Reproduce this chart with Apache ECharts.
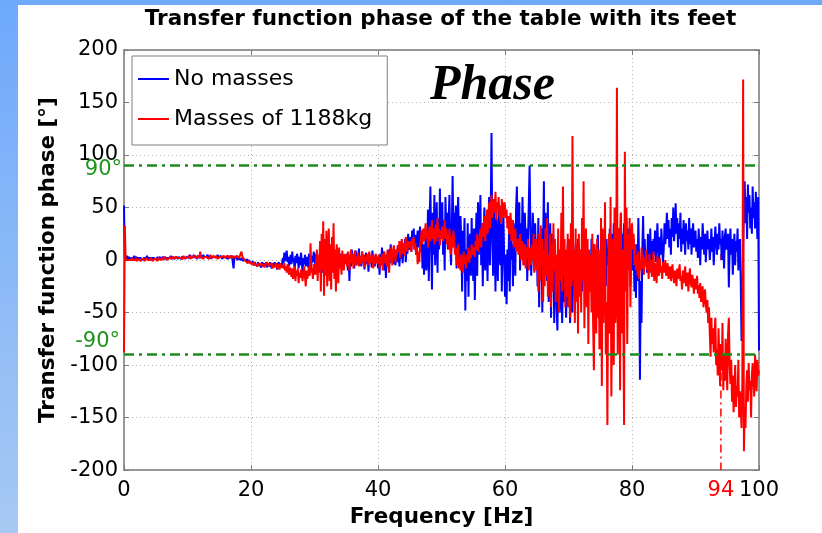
<!DOCTYPE html>
<html><head><meta charset="utf-8">
<script src="https://cdn.jsdelivr.net/npm/echarts@6/dist/echarts.min.js"></script>
<style>
html,body{margin:0;padding:0;overflow:hidden;}
#bg{position:absolute;left:0;top:0;width:822px;height:533px;background:linear-gradient(to bottom,#6ea9fc,#a7c9f3);}
#white{position:absolute;left:18px;top:5px;width:804px;height:528px;background:#fff;}
#chart{position:absolute;left:0;top:0;width:822px;height:533px;}
</style></head><body>
<div id="bg"></div><div id="white"></div><div id="chart"></div>
<script>
// ---- data (phase in degrees, sampled every 0.125 Hz from 0 to 100 Hz; one row = 5 Hz) ----
const freqStep = 0.125;
const seriesNames = ['No masses', 'Masses of 1188kg'];
const noMasses = [
52,3,1,2,4,1,3,2, 0,2,3,1,2,4,1,2, 3,0,2,1,3,2,1,3, 0,2,3,1,2,4,2,1, 3,2,0,2,1,3,2,1,
2,0,3,1,2,3,1,2, 0,3,2,1,3,2,0,2, 1,3,2,4,1,2,3,1, 2,0,3,2,1,3,4,2, 1,3,2,4,3,1,2,3,
3,4,2,5,3,2,4,3, 5,2,4,3,1,4,3,5, 2,3,4,2,5,3,4,2, 3,5,4,2,3,4,1,3, 2,4,3,2,4,3,5,2,
3,2,4,3,1,3,2,4, 3,2,3,1,4,2,3,2, 4,3,-8,2,1,3,2,0, 2,1,3,0,2,1,-1,1, 0,2,-1,1,-2,0,-1,-2,
-2,-4,-1,-3,-5,-2,-4,-3, -6,-2,-4,-5,-3,-7,-2,-4, -6,-3,-5,-2,-7,-4,-3,-6, -2,-5,-8,-3,-4,-6,-2,-5, -3,-9,-4,-2,-6,-3,-7,-4,
2,-3,7,-1,4,9,-2,3, -6,0,5,-4,8,-2,2,-10, 4,-3,6,1,-8,3,-5,7, -2,-12,2,-4,5,-6,0,3, -7,6,-3,1,-5,4,-2,8,
3,-5,6,-2,-9,4,-1,8, -6,2,-12,5,-3,7,-8,1, -4,9,-2,6,-7,3,-10,5, -3,8,-6,2,-4,7,-9,3, -2,6,-5,1,-8,4,-3,5,
-4,6,-10,2,-20,4,-6,10, -3,5,-8,0,9,-5,3,-2, 11,-4,2,-6,8,-3,5,-9, 1,7,-4,3,-11,6,-2,4, -7,9,-3,1,-6,5,-2,3,
-8,3,-14,6,-5,12,-2,8, -10,4,-17,2,6,-6,10,-3, 15,-1,7,-4,12,2,-5,9, -2,14,4,-6,10,1,18,-3, 8,5,20,-2,14,6,25,10,
12,22,8,28,15,30,10,24, 5,18,28,12,20,32,8,25, -8,15,-14,5,20,-10,10,48, -20,35,70,15,-28,45,5,62, -5,30,55,-12,40,10,68,20,
20,55,5,38,-10,60,25,45, 10,38,62,15,-5,30,80,25, 45,10,52,-8,35,60,20,-5, 42,15,-30,28,5,40,-48,10, -20,35,-35,15,25,-15,40,5,
-20,30,-38,10,45,-15,55,5, 25,62,-5,35,-25,20,50,-10, 40,15,-20,30,60,-5,45,121, 20,-15,55,25,-30,40,10,-20, 50,15,-5,35,-30,20,45,0,
-35,5,-42,10,-20,25,-30,40, 0,15,-25,35,10,-15,50,70, 20,40,55,-10,35,5,60,25, -5,45,15,30,-20,20,55,90, 30,-15,10,45,25,-10,35,5,
20,-25,40,-45,10,-20,30,-50, 15,75,-10,45,30,-20,55,-40, 15,35,-55,25,-30,10,-60,0, -15,-45,-67,-20,5,-50,-30,10, -60,-15,-40,0,-25,-55,-10,15,
-45,-15,-60,-30,-5,-50,-10,5, -25,15,-35,-5,20,-20,10,0, -15,-30,10,-20,18,-8,2,-25, -12,8,-30,5,-15,20,-10,-25, 15,0,-20,10,-5,24,-15,5,
-20,10,-35,15,24,-10,5,-25, 20,-5,12,-15,30,0,-20,25, -10,35,10,-30,40,15,-5,30, -15,20,45,-8,25,10,35,-20, 15,40,5,-10,30,20,-25,15,
30,-10,20,-30,5,-36,15,-20, 40,-5,-114,-20,-60,10,42,0, 20,-5,10,-12,25,15,-8,30, 0,18,-15,20,5,28,-2,15, 35,10,-8,22,5,30,12,-3,
10,35,15,28,45,20,38,12, 30,5,40,22,50,18,30,54, 25,40,12,35,20,45,8,30, 15,38,22,5,35,18,28,10, 40,15,30,5,25,35,12,20,
28,8,20,2,30,15,-5,22, 10,35,18,5,25,-2,15,28, 10,20,0,12,30,8,22,-5, 15,32,18,5,25,10,35,15, 20,0,28,12,-8,22,30,10,
15,25,-26,10,30,5,20,-14, 10,25,-5,18,8,30,-10,15, 20,-20,-77,-40,10,55,75,35, 60,20,72,45,62,30,50,25, 70,40,55,30,65,45,20,60,
-86];
const masses1188kg = [
-88,33,2,0,1,-1,0,1, -1,0,2,0,-1,1,0,2, -1,0,1,0,2,-1,1,0, 0,1,-1,0,2,1,0,-1, 1,0,2,1,-1,0,1,2,
0,1,-1,0,2,1,0,1, 2,0,1,3,2,1,2,0, 1,2,3,1,2,0,3,2, 1,3,2,4,2,1,3,2, 2,3,1,4,2,3,1,2,
3,2,4,3,1,4,2,3, 2,4,3,5,2,3,4,2, 8,3,2,4,1,3,2,4, 3,2,4,1,3,5,2,3, 2,4,3,2,4,3,1,2,
3,2,4,3,2,3,4,2, 3,2,4,3,3,2,4,3, 2,3,4,2,3,2,4,3, 3,2,3,1,8,4,2,3, 1,-1,-2,0,-3,-2,-1,-3,
-2,-4,-3,-5,-2,-4,-3,-5, -6,-3,-4,-2,-5,-3,-6,-4, -3,-7,-4,-5,-2,-6,-3,-5, -4,-6,-3,-8,-5,-4,-7,-3, -5,-8,-4,-6,-9,-3,-7,-5,
-5,-8,-3,-10,-6,-12,-4,-9, -14,-7,-11,-16,-8,-18,-12,-6, -20,-10,-15,-8,-22,-12,-17,-9, -14,-20,-11,-6,-16,-25,-10,-18, -12,-6,-15,16,-12,-8,-18,-4,
-8,-14,-2,10,-20,5,-12,18, -30,25,-10,37,-34,20,-15,28, -25,8,30,-20,15,-28,22,-12, 35,-18,10,-30,15,2,-22,12, -8,5,-14,9,-3,-10,6,-2,
5,-6,8,0,-10,4,10,-3, 6,-8,2,9,-5,3,-2,7, -6,4,0,-4,8,-2,5,-7, 3,-1,6,-5,2,8,-3,4, -2,5,-8,3,-4,6,1,-3,
-2,5,-8,3,-4,6,-10,2, 8,-3,5,-6,10,0,-12,7, 12,4,-5,9,14,6,-2,10, 5,14,8,18,2,12,20,6, 10,16,4,22,12,8,18,14,
12,18,8,20,14,22,10,16, 5,12,-4,8,-2,14,20,28, 15,30,18,25,35,20,28,12, 22,32,18,26,38,20,30,15, 25,34,18,40,22,30,14,28,
22,32,18,26,38,20,30,15, 25,10,30,18,5,22,12,28, 18,5,12,-5,8,15,-8,2, -10,5,0,-12,8,-4,3,-8, 5,0,12,-3,8,2,15,5,
5,12,3,18,10,25,8,15, 20,30,12,35,22,28,42,18, 32,48,25,38,55,30,45,62, 40,50,58,45,65,38,55,48, 60,42,52,35,58,48,40,55,
52,40,48,30,42,25,35,45, 18,28,38,12,22,30,8,15, 20,5,12,25,0,10,18,-5, 8,15,-8,12,2,20,-10,5, 12,-5,15,0,25,-12,8,20,
-10,15,-30,25,-20,33,-5,20, -40,10,-25,30,-15,40,-35,5, -20,25,-45,15,-30,35,-10,20, -40,5,-25,30,-50,10,-20,45, -30,70,-15,20,-45,10,-35,25,
-45,20,-55,35,-25,118,-20,10, -60,30,-40,15,-70,25,-35,10, -50,40,-20,75,-65,-5,30,-45, 20,-80,10,-30,5,-50,25,-60, -105,15,-40,-70,20,-55,10,-85,
-80,40,-120,30,-60,-20,55,-90, -40,-157,-10,25,-70,60,-130,-30, 20,-100,50,-60,-40,164,-90,-20, 30,-124,45,-70,10,-50,-157,103, -30,50,-80,25,-10,40,-45,20,
35,10,25,-5,15,-10,5,-15, 8,-18,0,-10,12,-8,5,-14, 2,-6,10,-10,-2,-18,6,-12, 0,-16,-5,8,-20,-3,-10,-22, 4,-8,-15,2,-12,-6,-18,-2,
-5,-12,0,-15,-8,-3,-18,-10, -6,-20,-12,-4,-16,-22,-10,-14, -25,-8,-18,-12,-4,-20,-15,-28, -10,-22,-14,-6,-25,-18,-12,-30, -16,-8,-22,-26,-14,-20,-32,-18,
-20,-28,-15,-32,-24,-36,-22,-40, -30,-25,-45,-35,-28,-42,-50,-38, -60,-45,-70,-92,-55,-80,-65,-88, -70,-55,-100,-85,-110,-65,-95,-120, -80,-105,-60,-124,-90,-115,-75,-100,
-124,-70,-55,-100,-118,-95,-135,-110, -145,-125,-100,-140,-120,-130,-95,-150, -125,-140,-160,-115,172,-182,-140,-160, -120,-105,-135,-98,-124,-115,-150,-110, -98,-115,-130,-90,-105,-125,-95,-110,
-105];
const xTickRange = [0, 100, 20];      // min, max, interval (Hz)
const yTickRange = [-200, 200, 50];   // min, max, interval (deg)
const phaseLimits = [90, -90];
const limitLabels = ['90°', '-90°'];
const crossingFreq = 94;

// ---- chart ----
const FONT = 'DejaVu Sans';
const toPairs = arr => arr.map((v, i) => [i * freqStep, v]);
const chart = echarts.init(document.getElementById('chart'), null, {renderer: 'canvas'});
const gridLine = {show: true, lineStyle: {color: '#b4b4b4', type: [1, 3], width: 1}};
const axisCol = '#7a7a7a';
const option = {
  animation: false,
  backgroundColor: 'transparent',
  grid: {left: 124, right: 63, top: 50, bottom: 59, containLabel: false},
  legend: {
    data: seriesNames, orient: 'vertical', left: 132, top: 56, icon: 'rect',
    backgroundColor: '#fff', borderColor: '#808080', borderWidth: 1,
    padding: [12, 15, 15, 6], itemWidth: 31, itemHeight: 2, itemGap: 18,
    textStyle: {fontFamily: FONT, fontSize: 22, color: '#000', lineHeight: 22}
  },
  xAxis: [
    {type: 'value', min: xTickRange[0], max: xTickRange[1], interval: xTickRange[2], position: 'bottom',
     axisLine: {show: true, onZero: false, lineStyle: {color: axisCol, width: 1.5}},
     axisTick: {show: true, inside: true, length: 5, lineStyle: {color: axisCol}},
     axisLabel: {fontFamily: FONT, fontSize: 21, color: '#000', margin: 10},
     splitLine: gridLine,
     name: 'Frequency [Hz]', nameLocation: 'middle', nameGap: 35,
     nameTextStyle: {fontFamily: FONT, fontSize: 21.5, fontWeight: 'bold', color: '#000'}},
    {type: 'value', min: xTickRange[0], max: xTickRange[1], position: 'bottom',
     axisLine: {show: false}, splitLine: {show: false},
     axisTick: {show: true, inside: true, length: 6, customValues: [crossingFreq], lineStyle: {color: '#ff0000', width: 1.5}},
     axisLabel: {show: true, customValues: [crossingFreq], fontFamily: FONT, fontSize: 21, color: '#ff0000', margin: 10}},
    {type: 'value', min: xTickRange[0], max: xTickRange[1], interval: xTickRange[2], position: 'top',
     axisLine: {show: true, onZero: false, lineStyle: {color: axisCol, width: 1.5}},
     axisTick: {show: true, inside: true, length: 5, lineStyle: {color: axisCol}},
     axisLabel: {show: false}, splitLine: {show: false}}
  ],
  yAxis: [
    {type: 'value', min: yTickRange[0], max: yTickRange[1], interval: yTickRange[2], position: 'left',
     axisLine: {show: true, onZero: false, lineStyle: {color: axisCol, width: 1.5}},
     axisTick: {show: true, inside: true, length: 5, lineStyle: {color: axisCol}},
     axisLabel: {fontFamily: FONT, fontSize: 21, color: '#000', margin: 6},
     splitLine: gridLine,
     name: 'Transfer function phase [°]', nameLocation: 'middle', nameGap: 62,
     nameTextStyle: {fontFamily: FONT, fontSize: 21.5, fontWeight: 'bold', color: '#000'}},
    {type: 'value', min: yTickRange[0], max: yTickRange[1], interval: yTickRange[2], position: 'right',
     axisLine: {show: true, onZero: false, lineStyle: {color: axisCol, width: 1.5}},
     axisTick: {show: true, inside: true, length: 5, lineStyle: {color: axisCol}},
     axisLabel: {show: false}, splitLine: {show: false}}
  ],
  series: [
    {name: seriesNames[0], type: 'line', data: toPairs(noMasses), symbol: 'none',
     lineStyle: {color: '#0000ff', width: 2}, itemStyle: {color: '#0000ff'}, z: 2},
    {name: seriesNames[1], type: 'line', data: toPairs(masses1188kg), symbol: 'none',
     lineStyle: {color: '#ff0000', width: 2}, itemStyle: {color: '#ff0000'}, z: 3},
    {name: 'lim+', type: 'line', data: [[xTickRange[0], phaseLimits[0]], [xTickRange[1], phaseLimits[0]]], symbol: 'none',
     lineStyle: {color: '#1b8c1b', width: 2.5, type: [10, 5, 3, 5]}, z: 5, silent: true},
    {name: 'lim-', type: 'line', data: [[xTickRange[0], phaseLimits[1]], [xTickRange[1], phaseLimits[1]]], symbol: 'none',
     lineStyle: {color: '#1b8c1b', width: 2.5, type: [10, 5, 3, 5]}, z: 5, silent: true},
    {name: 'cross', type: 'line', data: [[crossingFreq, phaseLimits[1]], [crossingFreq, yTickRange[0]]], symbol: 'none',
     lineStyle: {color: '#ff0000', width: 1.5, type: [8, 4, 2, 4]}, z: 4, silent: true}
  ]
};
chart.setOption(option);

// annotations positioned through the chart's own scales
const pTop = chart.convertToPixel({gridIndex: 0}, [0, phaseLimits[0]]);
const pBot = chart.convertToPixel({gridIndex: 0}, [0, phaseLimits[1]]);
const gLeft = chart.convertToPixel({gridIndex: 0}, [xTickRange[0], 0])[0];
const gRight = chart.convertToPixel({gridIndex: 0}, [xTickRange[1], 0])[0];
chart.setOption({
  graphic: [
    {type: 'text', x: (gLeft + gRight) / 2 - 1, y: 19, z: 10,
     style: {text: 'Transfer function phase of the table with its feet', font: 'bold 21.5px "DejaVu Sans"', fill: '#000', align: 'center', verticalAlign: 'middle'}},
    {type: 'text', x: 430, y: 86, z: 10,
     style: {text: 'Phase', font: 'italic bold 50px "Liberation Serif"', fill: '#000', align: 'left', verticalAlign: 'middle'}},
    {type: 'text', x: pTop[0] - 2, y: pTop[1] + 4, z: 10,
     style: {text: limitLabels[0], font: '21px "DejaVu Sans"', fill: '#1e961e', align: 'right', verticalAlign: 'middle'}},
    {type: 'text', x: pBot[0] - 4, y: pBot[1] - 13, z: 10,
     style: {text: limitLabels[1], font: '21px "DejaVu Sans"', fill: '#1e961e', align: 'right', verticalAlign: 'middle'}}
  ]
});
</script>
</body></html>
